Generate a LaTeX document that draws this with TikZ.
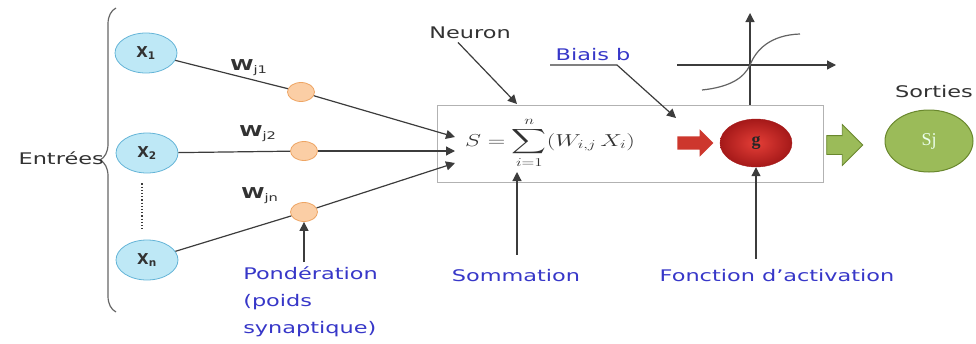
\documentclass[tikz,border=0pt]{standalone}
\usepackage[no-math]{fontspec}
\setmainfont{DejaVu Sans}
\newfontfamily\seriffont{Liberation Serif}
\usepackage{amsmath}
\usetikzlibrary{shapes.geometric, shapes.arrows, arrows.meta, positioning, decorations.pathreplacing}

\definecolor{darktxt}{RGB}{50,50,50}
\definecolor{darkline}{RGB}{60,60,60}
\definecolor{lblue}{RGB}{55,55,200}
\definecolor{cyanfill}{RGB}{190,232,246}
\definecolor{cyanedge}{RGB}{100,180,215}
\definecolor{orangefill}{RGB}{251,206,165}
\definecolor{orangeedge}{RGB}{238,165,100}
\definecolor{greenfill}{RGB}{155,187,89}
\definecolor{greenedge}{RGB}{105,135,45}
\definecolor{redarrow}{RGB}{205,55,45}
\definecolor{redlight}{RGB}{228,62,55}
\definecolor{reddark}{RGB}{165,25,25}

\begin{document}
\begin{tikzpicture}[
    x=1pt, y=-1pt,
    txt/.style={font=\fontsize{16}{27}\selectfont, text=darktxt, xscale=1.4, inner sep=0pt},
    bluetxt/.style={txt, text=lblue},
    wlabel/.style={txt, font=\fontsize{15}{15}\selectfont\bfseries},
    entree/.style={ellipse, draw=cyanedge, fill=cyanfill, line width=0.8pt, minimum width=62pt, minimum height=40pt, inner sep=0pt, text=darktxt, font=\fontsize{15}{15}\selectfont\bfseries},
    poids/.style={ellipse, draw=orangeedge, fill=orangefill, line width=0.8pt, minimum width=27pt, minimum height=19pt, inner sep=0pt},
    line/.style={draw=darkline, line width=1.2pt},
    arrow/.style={line, -{Triangle[length=9pt, width=9pt]}},
    bigarrow/.style={single arrow, single arrow head indent=0pt, inner xsep=0pt}
]
\useasboundingbox (0,0) rectangle (976,343);

\node[entree] (x1) at (146,53) {X\textsubscript{1}};
\node[entree] (x2) at (147,153) {X\textsubscript{2}};
\node[entree] (xn) at (147,260) {X\textsubscript{n}};

\draw[decorate, decoration={brace, amplitude=16pt}, line, draw=gray!80!black] (116,312) -- (116,8);
\node[txt, anchor=east] (entrees) at (104,158) {Entrées};
\draw[line, dotted, line width=2.2pt, shorten <=10pt, shorten >=10pt] ([xshift=-5pt]x2.south) -- ([xshift=-5pt]xn.north);

\node[poids] (w1) at (301,92) {};
\node[poids] (w2) at (304,151) {};
\node[poids] (wn) at (304,212) {};

\node[wlabel] (lw1) at (249,68) {W\textsubscript{\mdseries j1}};
\node[wlabel] (lw2) at (258,134) {W\textsubscript{\mdseries j2}};
\node[wlabel] (lwn) at (260,196) {W\textsubscript{\mdseries jn}};

\node[draw=gray!60, line width=0.8pt, minimum width=386pt, minimum height=77pt, inner sep=0pt] (neuron) at (630,143.5) {};
\node[txt, font=\fontsize{18}{22}\selectfont] (formule) at (550,143) {$\displaystyle S=\sum_{i=1}^{n}(W_{i,j}\,X_i)$};

\coordinate (in1) at (455,137);
\coordinate (in2) at (455,151);
\coordinate (in3) at (455,163);
\draw[line] (x1) -- (w1);
\draw[arrow] (w1) -- (in1);
\draw[line] (x2) -- (w2);
\draw[arrow] (w2) -- (in2);
\draw[line] (xn) -- (wn);
\draw[arrow] (wn) -- (in3);

\node[txt, anchor=base] (nlabel) at (470,38) {Neuron};
\coordinate (ntip) at (517,104);
\draw[arrow] ([xshift=-12pt, yshift=-4pt]nlabel.south) -- (ntip);

\node[bluetxt, anchor=base] (biais) at (593,60) {Biais b};
\coordinate (bleft) at (550,65);
\coordinate (bright) at (617,65);
\coordinate (btip) at (676,118);
\draw[arrow] (bleft) -- (bright) -- (btip);

\node[bigarrow, fill=redarrow, minimum height=36pt, inner ysep=6.5pt, single arrow head extend=7pt] (flecherouge) at (692,143) {};
\node[ellipse, inner color=redlight, outer color=reddark, draw=reddark, minimum width=72pt, minimum height=48pt, inner sep=0pt, font=\seriffont\bfseries\fontsize{18}{18}\selectfont, text=black!85] (g) at (756,143) {g};

\coordinate (origine) at (750,65);
\coordinate (vhaut) at (750,13);
\coordinate (hgauche) at (677,65);
\coordinate (hdroite) at (836,65);
\draw[arrow] (origine |- neuron.north) -- (vhaut);
\draw[arrow] (hgauche) -- (hdroite);
\draw[line, draw=darkline!80] (702,90) .. controls (730,87) and (744,78) .. (origine) .. controls (756,50) and (770,35) .. (800,34);

\node[bigarrow, fill=greenfill, draw=greenedge, line width=0.8pt, minimum height=36pt, inner ysep=9pt, single arrow head extend=11pt] (flecheverte) at (840,145) {};
\node[ellipse, draw=greenedge, fill=greenfill, line width=1pt, minimum width=88pt, minimum height=62pt, inner sep=0pt, font=\seriffont\fontsize{18}{18}\selectfont, text=white!92!green] (sj) at (929,141) {Sj};
\node[txt, anchor=base] (sorties) at (934,97) {Sorties};

\node[bluetxt, anchor=north west, align=left] (ponder) at (243,266) {Pondération\\(poids\\synaptique)};
\draw[arrow, shorten <=4pt] (ponder.north -| wn.south) -- (wn.south);

\node[bluetxt, anchor=base] (somm) at (516,281) {Sommation};
\coordinate (sommtip) at (517,172);
\draw[arrow, shorten <=14pt] (somm.north -| sommtip) -- (sommtip);

\node[bluetxt, anchor=base] (fonction) at (777,281) {Fonction d'activation};
\draw[arrow, shorten <=10pt] (fonction.north -| g.south) -- (g.south);

\end{tikzpicture}
\end{document}
